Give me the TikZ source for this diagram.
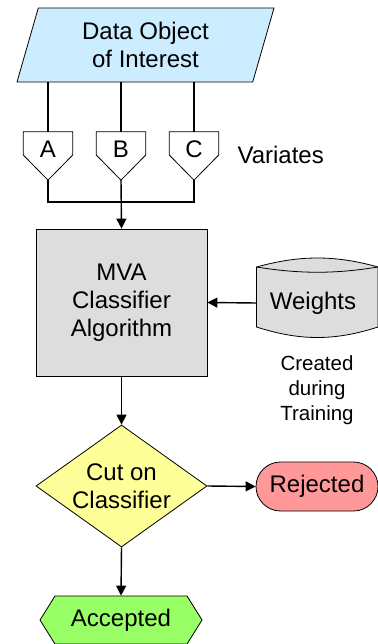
\documentclass[tikz,border=0pt]{standalone}
\usepackage{fontspec}
\setmainfont{Liberation Sans}
\usetikzlibrary{positioning,shapes.geometric,shapes.symbols,arrows.meta,calc}
\definecolor{inputblue}{RGB}{204,236,255}
\definecolor{boxgray}{RGB}{221,221,221}
\definecolor{cutyellow}{RGB}{255,255,153}
\definecolor{rejectred}{RGB}{255,153,153}
\definecolor{acceptgreen}{RGB}{153,255,102}

\tikzset{
  base/.style={draw, line width=0.8pt, inner sep=0pt, font=\fontsize{24}{28}\selectfont, align=center},
  variate/.style={inner sep=0pt, minimum width=49pt, minimum height=48pt,
    append after command={\pgfextra{\draw[line width=0.8pt] (\tikzlastnode.north west) -- (\tikzlastnode.north east)
      -- ([yshift=1pt]\tikzlastnode.east) -- (\tikzlastnode.south) -- ([yshift=1pt]\tikzlastnode.west) -- cycle;}}},
  conn/.style={line width=1.4pt},
  arr/.style={conn, -{Triangle[length=10pt,width=10pt]}}
}

\begin{document}
\begin{tikzpicture}[x=1pt,y=-1pt]
\useasboundingbox (0,0) rectangle (377,644);

% Input object
\node[base, fill=inputblue, trapezium, trapezium left angle=65, trapezium right angle=115,
      trapezium stretches body, minimum width=257pt, minimum height=74pt] (data) at (145.5,45) {Data Object\\of Interest};

% Variates
\node[variate] (a) at (48,156) {};
\node[variate] (b) at (121,156) {};
\node[variate] (c) at (194,156) {};
\node[font=\fontsize{24}{28}\selectfont] (la) at (48,149) {A};
\node[font=\fontsize{24}{28}\selectfont] (lb) at (121,149) {B};
\node[font=\fontsize{24}{28}\selectfont] (lc) at (194,149) {C};
\node[font=\fontsize{24}{28}\selectfont, anchor=west] (varlabel) at (234,155) {Variates};

% Classifier
\node[base, fill=boxgray, minimum width=171pt, minimum height=147pt] (mva) at (121.5,302.5) {MVA\\Classifier\\Algorithm};

% Weights (stored data)
\draw[line width=0.8pt, fill=boxgray] (256.5,267) .. controls (300,255) and (335,255) .. (378,267)
  -- (378,327) .. controls (335,341) and (300,341) .. (256.5,327) -- cycle;
\draw[line width=0.8pt] (256.5,267) .. controls (300,274) and (335,274) .. (378,267);
\node[font=\fontsize{24}{28}\selectfont, minimum width=113pt, inner sep=0pt] (weights) at (313,303) {Weights};
\node[font=\fontsize{20.5}{25}\selectfont, align=center] (trained) at (317,390) {Created\\during\\Training};

% Decision
\node[base, fill=cutyellow, diamond, aspect=1.4, minimum width=171pt, minimum height=122pt] (cut) at (121.5,486) {Cut on\\Classifier};
\node[base, fill=rejectred, rounded corners=24.5pt, minimum width=122pt, minimum height=49pt] (rej) at (317,486.5) {Rejected};
\node[base, fill=acceptgreen, signal, signal to=east and west, signal pointer angle=116,
      minimum width=162pt, minimum height=48pt] (acc) at (121,620) {Accepted};

% Connectors
\coordinate (merge) at (121,202);
\draw[conn] (a.north |- data.south) -- (a.north);
\draw[conn] (b.north |- data.south) -- (b.north);
\draw[conn] (c.north |- data.south) -- (c.north);
\draw[conn] (a.south) |- (merge) -| (c.south);
\draw[arr] (b.south) -- (mva.north);
\draw[arr] (weights.west) -- (mva.east);
\draw[arr] (mva.south) -- (cut.north);
\draw[arr] (cut.east) -- (rej.west);
\draw[arr] (cut.south) -- (acc.north);
\end{tikzpicture}
\end{document}
